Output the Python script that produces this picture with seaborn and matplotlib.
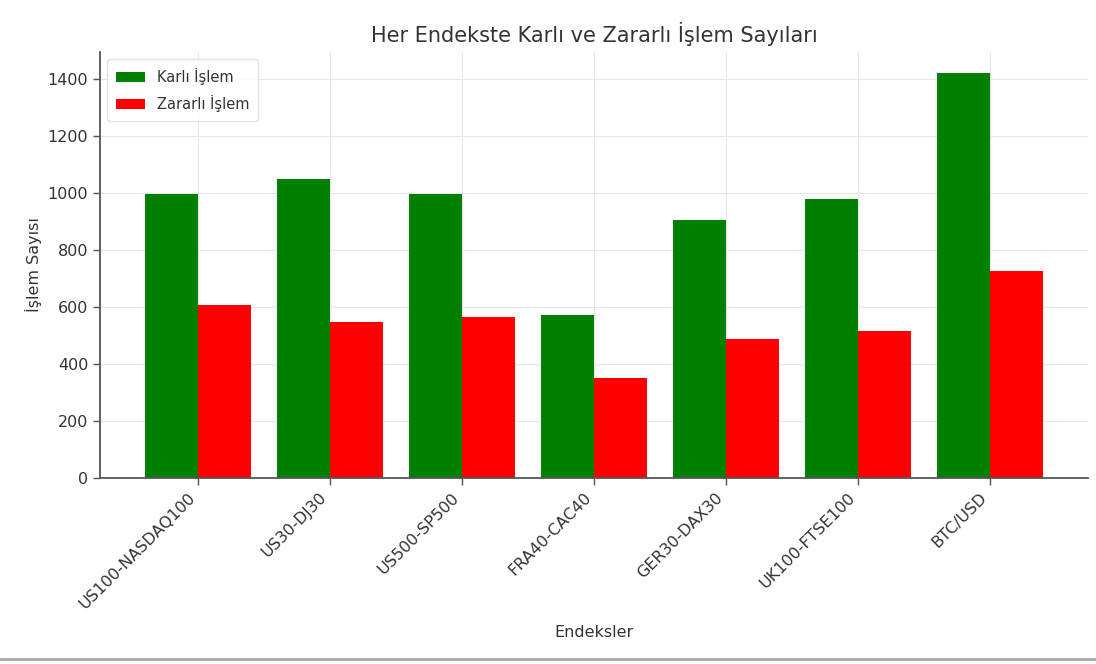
import matplotlib
matplotlib.use("Agg")
import matplotlib.pyplot as plt
import seaborn as sns
import pandas as pd
from matplotlib.lines import Line2D

categories = ["US100-NASDAQ100", "US30-DJ30", "US500-SP500", "FRA40-CAC40",
              "GER30-DAX30", "UK100-FTSE100", "BTC/USD"]
karli = [995, 1051, 995, 573, 907, 978, 1423]
zararli = [607, 548, 566, 352, 488, 515, 726]
series_names = ["Karlı İşlem", "Zararlı İşlem"]
yticks = [0, 200, 400, 600, 800, 1000, 1200, 1400]

df = pd.DataFrame({
    "Endeks": categories * 2,
    "Sayı": karli + zararli,
    "Tür": [series_names[0]] * len(categories) + [series_names[1]] * len(categories),
})

sns.set_theme(style="whitegrid")
plt.rcParams["font.family"] = ["DejaVu Sans"]

fig = plt.figure(figsize=(10.96, 6.64), dpi=100)
ax = fig.add_axes([100 / 1096, 1 - 478 / 664, (1088 - 100) / 1096, (478 - 52) / 664])

sns.barplot(data=df, x="Endeks", y="Sayı", hue="Tür", ax=ax,
            palette={series_names[0]: "#008000", series_names[1]: "#ff0000"},
            saturation=1, width=0.8, edgecolor="none", linewidth=0)

ax.set_title("Her Endekste Karlı ve Zararlı İşlem Sayıları", fontsize=15, color="#333333", pad=7)
ax.set_xlabel("Endeksler", fontsize=11.5, color="#333333", labelpad=10)
ax.set_ylabel("İşlem Sayısı", fontsize=11.5, color="#333333")
ax.set_yticks(yticks)
ax.set_ylim(0, 1495)
ax.set_xlim(-0.742, len(categories) - 1 + 0.742)

ax.grid(True, color="#e6e6e6", linewidth=0.8)
ax.set_axisbelow(True)
for s in ["top", "right"]:
    ax.spines[s].set_visible(False)
for s in ["left", "bottom"]:
    ax.spines[s].set_visible(True)
    ax.spines[s].set_color("#555555")
    ax.spines[s].set_linewidth(1.3)
ax.tick_params(axis="both", which="both", direction="out", length=5, width=1,
               color="#555555", labelsize=11.5, labelcolor="#333333", left=True, bottom=True)
plt.setp(ax.get_xticklabels(), rotation=45, ha="right")

leg = ax.legend(loc="upper left", fontsize=10.5, frameon=True, title=None,
                handlelength=2.0, borderpad=0.6, labelspacing=0.7)
leg.get_frame().set_edgecolor("#dddddd")
leg.get_frame().set_facecolor("white")
for t in leg.get_texts():
    t.set_color("#333333")

fig.add_artist(Line2D([0, 1], [5 / 664, 5 / 664], color="#aaaaaa", linewidth=2,
                      transform=fig.transFigure))

fig.savefig("out.png", dpi=100)
